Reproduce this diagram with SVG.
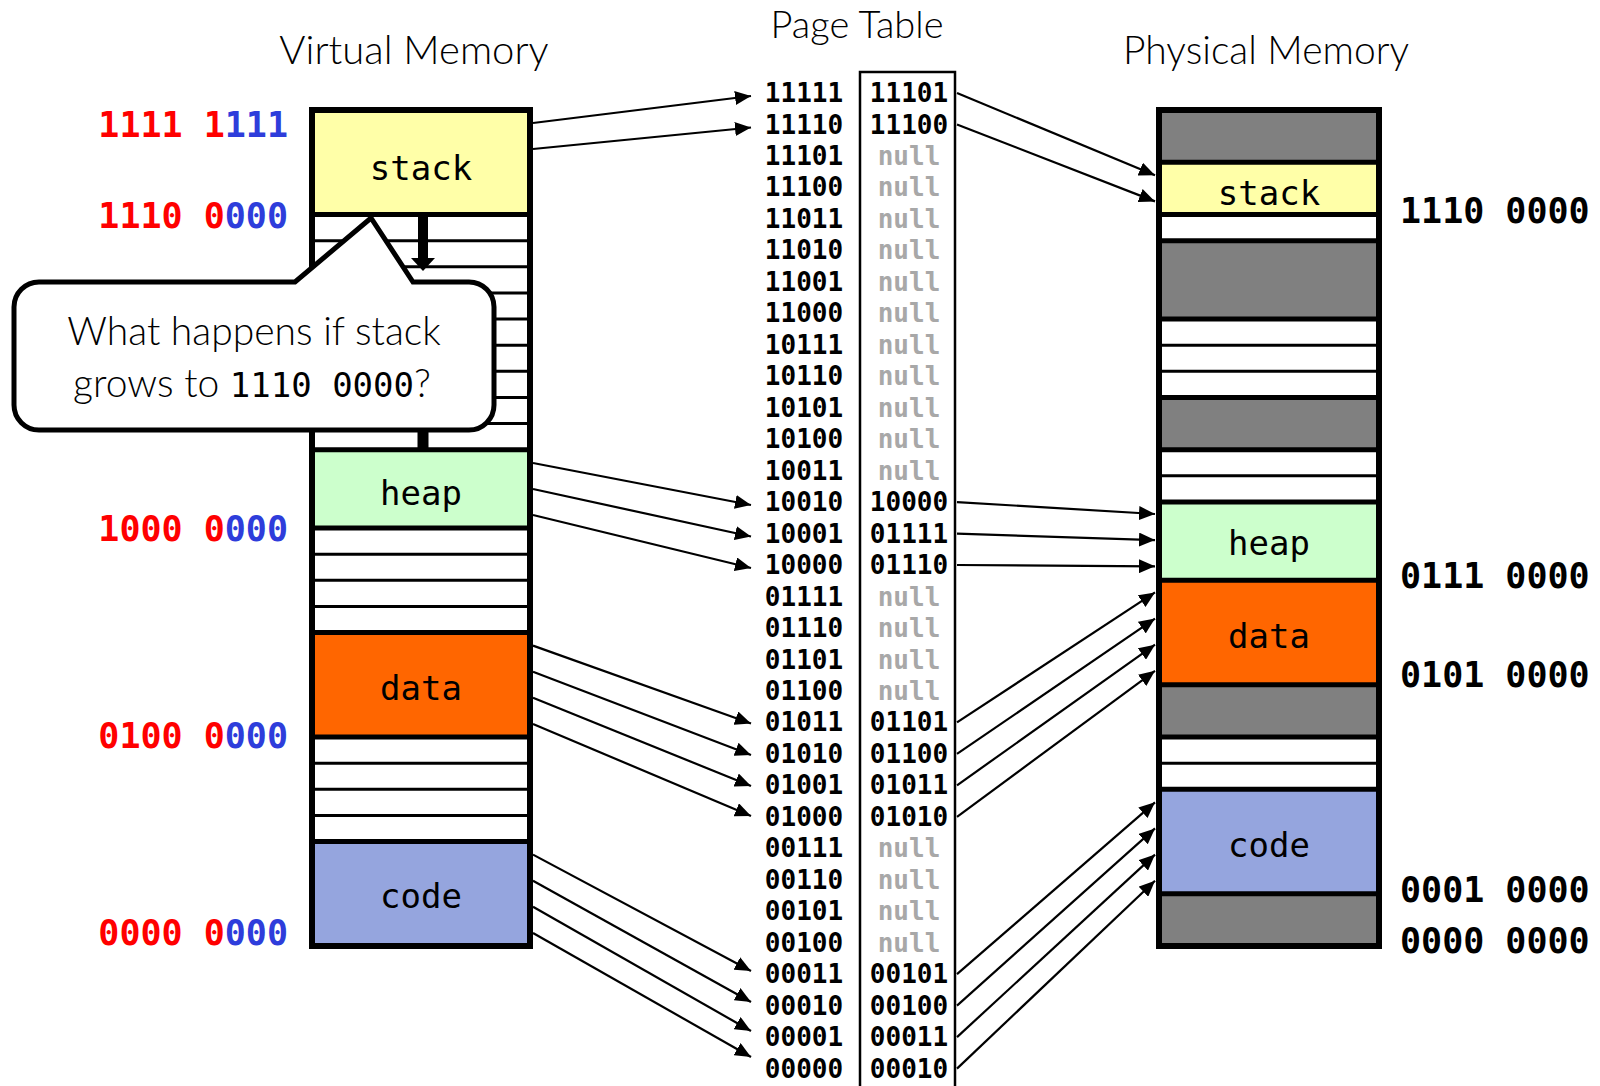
<svg xmlns="http://www.w3.org/2000/svg" width="1600" height="1086" viewBox="0 0 1600 1086">
<defs>
<style>
.title{font-family:Lato,"Open Sans","Liberation Sans",sans-serif;font-weight:300;fill:#000;text-anchor:middle}
.seg{font-family:"DejaVu Sans Mono","Liberation Mono",monospace;font-size:34px;fill:#000;text-anchor:middle}
.addr{font-family:"DejaVu Sans Mono","Liberation Mono",monospace;font-weight:bold;font-size:35px}
.pt{font-family:"DejaVu Sans Mono","Liberation Mono",monospace;font-weight:bold;font-size:26px;text-anchor:middle;fill:#000}
.null{fill:#a8a8a8}
.r{fill:#ff0000}
.b{fill:#2e3ddb}
.thick{stroke:#000;stroke-width:5}
.thin{stroke:#000;stroke-width:3}
.conn line{stroke:#000;stroke-width:2.2;marker-end:url(#ah)}
</style>
<marker id="ah" markerUnits="userSpaceOnUse" markerWidth="17" markerHeight="14" refX="16" refY="7" orient="auto">
<path d="M0,0 L16,7 L0,14 z" fill="#000"/>
</marker>
</defs>
<rect width="1600" height="1086" fill="#fff"/>

<!-- Titles -->
<text class="title" x="414" y="64" font-size="40">Virtual Memory</text>
<text class="title" x="857" y="38" font-size="38">Page Table</text>
<text class="title" x="1266" y="64" font-size="39">Physical Memory</text>

<!-- Virtual memory -->
<g id="virtual-memory">
<rect x="312" y="110" width="218" height="836" fill="#fff"/>
<rect x="312" y="110" width="218" height="104.5" fill="#ffffa8"/>
<rect x="312" y="449.625" width="218" height="78.375" fill="#ccffcc"/>
<rect x="312" y="632.5" width="218" height="104.5" fill="#ff6600"/>
<rect x="312" y="841.5" width="218" height="104.5" fill="#95a5de"/>
<g class="thin">
<line x1="312" x2="530" y1="240.625" y2="240.625"/>
<line x1="312" x2="530" y1="266.75" y2="266.75"/>
<line x1="312" x2="530" y1="292.875" y2="292.875"/>
<line x1="312" x2="530" y1="319" y2="319"/>
<line x1="312" x2="530" y1="345.125" y2="345.125"/>
<line x1="312" x2="530" y1="371.25" y2="371.25"/>
<line x1="312" x2="530" y1="397.375" y2="397.375"/>
<line x1="312" x2="530" y1="423.5" y2="423.5"/>
<line x1="312" x2="530" y1="554.125" y2="554.125"/>
<line x1="312" x2="530" y1="580.25" y2="580.25"/>
<line x1="312" x2="530" y1="606.375" y2="606.375"/>
<line x1="312" x2="530" y1="763.125" y2="763.125"/>
<line x1="312" x2="530" y1="789.25" y2="789.25"/>
<line x1="312" x2="530" y1="815.375" y2="815.375"/>
</g>
<g class="thick">
<line x1="312" x2="530" y1="214.5" y2="214.5"/>
<line x1="312" x2="530" y1="449.625" y2="449.625"/>
<line x1="312" x2="530" y1="528" y2="528"/>
<line x1="312" x2="530" y1="632.5" y2="632.5"/>
<line x1="312" x2="530" y1="737" y2="737"/>
<line x1="312" x2="530" y1="841.5" y2="841.5"/>
</g>
<rect x="312" y="110" width="218" height="836" fill="none" stroke="#000" stroke-width="6"/>
<text class="seg" x="421" y="180">stack</text>
<text class="seg" x="421" y="505">heap</text>
<text class="seg" x="421" y="700">data</text>
<text class="seg" x="421" y="908">code</text>
<!-- growth arrows -->
<line x1="423" y1="216" x2="423" y2="259" stroke="#000" stroke-width="10"/>
<path d="M411,258 L435,258 L423,271 z" fill="#000"/>
<line x1="423" y1="448" x2="423" y2="400" stroke="#000" stroke-width="11"/>
</g>

<g id="virtual-labels" class="addr" text-anchor="end">
<text x="288" y="137"><tspan class="r">1111 1</tspan><tspan class="b">111</tspan></text>
<text x="288" y="228"><tspan class="r">1110 0</tspan><tspan class="b">000</tspan></text>
<text x="288" y="541"><tspan class="r">1000 0</tspan><tspan class="b">000</tspan></text>
<text x="288" y="748"><tspan class="r">0100 0</tspan><tspan class="b">000</tspan></text>
<text x="288" y="945"><tspan class="r">0000 0</tspan><tspan class="b">000</tspan></text>
</g>

<!-- Callout -->
<g id="callout">
<path d="M39,282 L295,282 L371,218 L413,282 L469,282 A25,25 0 0 1 494,307 L494,405 A25,25 0 0 1 469,430 L39,430 A25,25 0 0 1 14,405 L14,307 A25,25 0 0 1 39,282 Z" fill="#fff" stroke="#000" stroke-width="5" stroke-linejoin="miter"/>
<text class="title" x="254" y="345" font-size="39">What happens if stack</text>
<text class="title" x="252" y="397" font-size="39">grows to <tspan font-family="'DejaVu Sans Mono','Liberation Mono',monospace" font-weight="normal" font-size="34">1110 0000</tspan>?</text>
</g>

<!-- Page table -->
<g id="page-table">
<rect x="860" y="72" width="95" height="1030" fill="none" stroke="#000" stroke-width="2.5"/>
<g class="pt">
<text x="804" y="102">11111</text><text x="909" y="102">11101</text>
<text x="804" y="133.5">11110</text><text x="909" y="133.5">11100</text>
<text x="804" y="165">11101</text><text class="null" x="909" y="165">null</text>
<text x="804" y="196.4">11100</text><text class="null" x="909" y="196.4">null</text>
<text x="804" y="227.9">11011</text><text class="null" x="909" y="227.9">null</text>
<text x="804" y="259.4">11010</text><text class="null" x="909" y="259.4">null</text>
<text x="804" y="290.8">11001</text><text class="null" x="909" y="290.8">null</text>
<text x="804" y="322.3">11000</text><text class="null" x="909" y="322.3">null</text>
<text x="804" y="353.8">10111</text><text class="null" x="909" y="353.8">null</text>
<text x="804" y="385.2">10110</text><text class="null" x="909" y="385.2">null</text>
<text x="804" y="416.7">10101</text><text class="null" x="909" y="416.7">null</text>
<text x="804" y="448.2">10100</text><text class="null" x="909" y="448.2">null</text>
<text x="804" y="479.6">10011</text><text class="null" x="909" y="479.6">null</text>
<text x="804" y="511.1">10010</text><text x="909" y="511.1">10000</text>
<text x="804" y="542.6">10001</text><text x="909" y="542.6">01111</text>
<text x="804" y="574">10000</text><text x="909" y="574">01110</text>
<text x="804" y="605.5">01111</text><text class="null" x="909" y="605.5">null</text>
<text x="804" y="637">01110</text><text class="null" x="909" y="637">null</text>
<text x="804" y="668.5">01101</text><text class="null" x="909" y="668.5">null</text>
<text x="804" y="699.9">01100</text><text class="null" x="909" y="699.9">null</text>
<text x="804" y="731.4">01011</text><text x="909" y="731.4">01101</text>
<text x="804" y="762.9">01010</text><text x="909" y="762.9">01100</text>
<text x="804" y="794.3">01001</text><text x="909" y="794.3">01011</text>
<text x="804" y="825.8">01000</text><text x="909" y="825.8">01010</text>
<text x="804" y="857.3">00111</text><text class="null" x="909" y="857.3">null</text>
<text x="804" y="888.8">00110</text><text class="null" x="909" y="888.8">null</text>
<text x="804" y="920.2">00101</text><text class="null" x="909" y="920.2">null</text>
<text x="804" y="951.7">00100</text><text class="null" x="909" y="951.7">null</text>
<text x="804" y="983.2">00011</text><text x="909" y="983.2">00101</text>
<text x="804" y="1014.6">00010</text><text x="909" y="1014.6">00100</text>
<text x="804" y="1046.1">00001</text><text x="909" y="1046.1">00011</text>
<text x="804" y="1077.6">00000</text><text x="909" y="1077.6">00010</text>
</g>
</g>

<!-- Physical memory -->
<g id="physical-memory">
<rect x="1159" y="110" width="220" height="836" fill="#fff"/>
<g fill="#808080">
<rect x="1159" y="110" width="220" height="52.25"/>
<rect x="1159" y="240.625" width="220" height="78.375"/>
<rect x="1159" y="397.375" width="220" height="52.25"/>
<rect x="1159" y="684.75" width="220" height="52.25"/>
<rect x="1159" y="893.75" width="220" height="52.25"/>
</g>
<rect x="1159" y="162.25" width="220" height="52.25" fill="#ffffa8"/>
<rect x="1159" y="501.875" width="220" height="78.375" fill="#ccffcc"/>
<rect x="1159" y="580.25" width="220" height="104.5" fill="#ff6600"/>
<rect x="1159" y="789.25" width="220" height="104.5" fill="#95a5de"/>
<g class="thin">
<line x1="1159" x2="1379" y1="345.125" y2="345.125"/>
<line x1="1159" x2="1379" y1="371.25" y2="371.25"/>
<line x1="1159" x2="1379" y1="475.75" y2="475.75"/>
<line x1="1159" x2="1379" y1="763.125" y2="763.125"/>
</g>
<g class="thick">
<line x1="1159" x2="1379" y1="162.25" y2="162.25"/>
<line x1="1159" x2="1379" y1="214.5" y2="214.5"/>
<line x1="1159" x2="1379" y1="240.625" y2="240.625"/>
<line x1="1159" x2="1379" y1="319" y2="319"/>
<line x1="1159" x2="1379" y1="397.375" y2="397.375"/>
<line x1="1159" x2="1379" y1="449.625" y2="449.625"/>
<line x1="1159" x2="1379" y1="501.875" y2="501.875"/>
<line x1="1159" x2="1379" y1="580.25" y2="580.25"/>
<line x1="1159" x2="1379" y1="684.75" y2="684.75"/>
<line x1="1159" x2="1379" y1="737" y2="737"/>
<line x1="1159" x2="1379" y1="789.25" y2="789.25"/>
<line x1="1159" x2="1379" y1="893.75" y2="893.75"/>
</g>
<rect x="1159" y="110" width="220" height="836" fill="none" stroke="#000" stroke-width="6"/>
<text class="seg" x="1269" y="205">stack</text>
<text class="seg" x="1269" y="555">heap</text>
<text class="seg" x="1269" y="648">data</text>
<text class="seg" x="1269" y="857">code</text>
</g>

<g id="physical-labels" class="addr" fill="#000">
<text x="1400" y="223">1110 0000</text>
<text x="1400" y="588">0111 0000</text>
<text x="1400" y="687">0101 0000</text>
<text x="1400" y="902">0001 0000</text>
<text x="1400" y="953">0000 0000</text>
</g>

<!-- Connectors -->
<g id="connectors" class="conn">
<line x1="533" y1="123" x2="751" y2="96"/>
<line x1="533" y1="149" x2="751" y2="127.5"/>
<line x1="533" y1="463" x2="751" y2="505"/>
<line x1="533" y1="489" x2="751" y2="536.5"/>
<line x1="533" y1="515" x2="751" y2="568"/>
<line x1="533" y1="645.6" x2="751" y2="723.5"/>
<line x1="533" y1="671.7" x2="751" y2="755"/>
<line x1="533" y1="697.8" x2="751" y2="786"/>
<line x1="533" y1="724" x2="751" y2="816"/>
<line x1="533" y1="854.6" x2="751" y2="971"/>
<line x1="533" y1="880.7" x2="751" y2="1002"/>
<line x1="533" y1="906.8" x2="751" y2="1031"/>
<line x1="533" y1="933" x2="751" y2="1057"/>
<line x1="957" y1="93" x2="1155" y2="175.3"/>
<line x1="957" y1="124.5" x2="1155" y2="201.4"/>
<line x1="957" y1="502.1" x2="1155" y2="514"/>
<line x1="957" y1="533.6" x2="1155" y2="540.1"/>
<line x1="957" y1="565" x2="1155" y2="566.3"/>
<line x1="957" y1="722.4" x2="1155" y2="592.4"/>
<line x1="957" y1="753.9" x2="1155" y2="618.6"/>
<line x1="957" y1="785.3" x2="1155" y2="644.7"/>
<line x1="957" y1="816.8" x2="1155" y2="670.8"/>
<line x1="957" y1="974.2" x2="1155" y2="802.3"/>
<line x1="957" y1="1005.6" x2="1155" y2="828.4"/>
<line x1="957" y1="1037.1" x2="1155" y2="854.6"/>
<line x1="957" y1="1068.6" x2="1155" y2="880.7"/>
</g>
</svg>
